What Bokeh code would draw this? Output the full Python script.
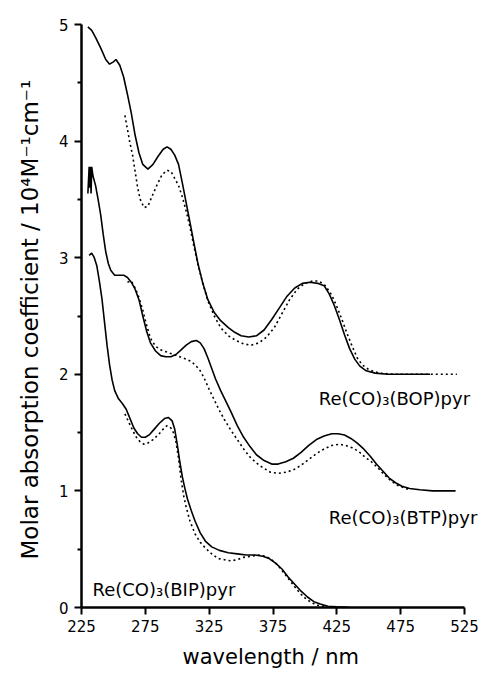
from bokeh.plotting import figure
from bokeh.models import Range1d, FixedTicker, Label, Title
from bokeh.embed import file_html
from bokeh.resources import INLINE

# ---------------- data ----------------
x_ticks = [225, 275, 325, 375, 425, 475, 525]
y_ticks = [0, 1, 2, 3, 4, 5]
y_minor = [0.5, 1.5, 2.5, 3.5, 4.5]

labels = ["Re(CO)\u2083(BOP)pyr", "Re(CO)\u2083(BTP)pyr", "Re(CO)\u2083(BIP)pyr"]

bop_solid_x = [230, 233, 236, 240, 244, 247, 250, 252, 255, 258, 261, 264, 267, 270, 273, 277, 281, 285, 289, 292,
               295, 298, 301, 304, 307, 310, 313, 316, 320, 324, 329, 334, 340, 345, 350, 356, 362, 368, 374, 380,
               386, 392, 398, 404, 410, 415, 419, 423, 427, 431, 435, 439, 443, 448, 455, 465, 480, 498]
bop_solid_y = [4.98, 4.95, 4.89, 4.80, 4.70, 4.66, 4.68, 4.70, 4.65, 4.55, 4.40, 4.24, 4.05, 3.90, 3.80, 3.76, 3.80,
               3.87, 3.93, 3.95, 3.93, 3.88, 3.80, 3.64, 3.47, 3.30, 3.13, 2.96, 2.78, 2.64, 2.53, 2.46, 2.40, 2.36,
               2.33, 2.32, 2.33, 2.38, 2.47, 2.57, 2.67, 2.74, 2.78, 2.79, 2.78, 2.76, 2.69, 2.59, 2.47, 2.34, 2.22,
               2.13, 2.07, 2.03, 2.01, 2.00, 2.00, 2.00]

bop_dot_x = [259, 261, 263, 265, 267, 269, 271, 274, 277, 280, 284, 288, 292, 295, 298, 301, 304, 307, 310, 313, 316,
             320, 324, 329, 334, 340, 346, 352, 358, 364, 370, 376, 382, 388, 394, 400, 406, 411, 416, 421, 425, 429,
             433, 437, 441, 445, 450, 458, 470, 490, 505, 519]
bop_dot_y = [4.22, 4.10, 3.98, 3.88, 3.74, 3.60, 3.50, 3.43, 3.44, 3.52, 3.62, 3.71, 3.75, 3.74, 3.68, 3.62, 3.52,
             3.40, 3.26, 3.10, 2.95, 2.78, 2.63, 2.50, 2.40, 2.33, 2.29, 2.26, 2.25, 2.27, 2.32, 2.40, 2.52, 2.64,
             2.73, 2.78, 2.80, 2.80, 2.76, 2.68, 2.58, 2.47, 2.35, 2.24, 2.14, 2.08, 2.04, 2.01, 2.00, 2.00, 2.00,
             2.00]

btp_solid_x = [230, 231, 231.5, 232, 232.5, 233, 234, 236, 238, 240, 242, 244, 246, 248, 251, 255, 258, 261, 264,
               267, 270, 273, 276, 279, 283, 287, 291, 295, 299, 303, 307, 311, 315, 318, 321, 324, 327, 330, 334,
               338, 342, 347, 352, 357, 362, 368, 374, 379, 385, 391, 397, 403, 409, 415, 421, 426, 431, 436, 441,
               446, 451, 456, 461, 466, 471, 476, 482, 490, 500, 510, 518]
btp_solid_y = [3.55, 3.78, 3.60, 3.78, 3.55, 3.78, 3.70, 3.62, 3.50, 3.37, 3.20, 3.05, 2.95, 2.89, 2.85, 2.85, 2.85,
               2.83, 2.79, 2.73, 2.64, 2.50, 2.37, 2.27, 2.20, 2.16, 2.15, 2.15, 2.17, 2.21, 2.25, 2.28, 2.29, 2.27,
               2.22, 2.14, 2.05, 1.96, 1.86, 1.77, 1.68, 1.56, 1.46, 1.38, 1.31, 1.26, 1.23, 1.23, 1.25, 1.28, 1.33,
               1.39, 1.44, 1.47, 1.49, 1.49, 1.48, 1.45, 1.41, 1.36, 1.30, 1.23, 1.17, 1.11, 1.07, 1.04, 1.02, 1.01,
               1.00, 1.00, 1.00]

btp_dot_x = [261, 264, 267, 270, 273, 276, 279, 283, 287, 292, 297, 302, 307, 311, 315, 318, 321, 325, 329, 333, 337,
             342, 347, 352, 357, 362, 367, 373, 379, 385, 391, 397, 403, 409, 415, 421, 427, 432, 437, 442, 447, 452,
             457, 462, 467, 472, 477, 482]
btp_dot_y = [2.79, 2.80, 2.74, 2.66, 2.55, 2.42, 2.31, 2.24, 2.21, 2.19, 2.17, 2.15, 2.13, 2.11, 2.07, 2.03, 1.97,
             1.87, 1.78, 1.69, 1.61, 1.52, 1.44, 1.36, 1.29, 1.24, 1.20, 1.16, 1.15, 1.16, 1.18, 1.22, 1.27, 1.32,
             1.36, 1.39, 1.40, 1.39, 1.37, 1.34, 1.29, 1.25, 1.20, 1.14, 1.09, 1.05, 1.03, 1.01]

bip_solid_x = [231, 233, 235, 237, 239, 241, 243, 245, 247, 249, 251, 254, 257, 260, 263, 266, 269, 272, 275, 278,
               282, 286, 290, 293, 296, 298, 300, 302, 304, 306, 308, 311, 314, 318, 322, 327, 333, 340, 347, 354,
               361, 367, 372, 377, 382, 387, 392, 397, 402, 407, 412, 418, 425, 435]
bip_solid_y = [3.02, 3.04, 3.00, 2.93, 2.80, 2.65, 2.45, 2.25, 2.08, 1.95, 1.86, 1.79, 1.75, 1.70, 1.62, 1.54, 1.49,
               1.46, 1.46, 1.48, 1.53, 1.58, 1.62, 1.63, 1.60, 1.53, 1.40, 1.25, 1.12, 1.02, 0.93, 0.83, 0.74, 0.64,
               0.57, 0.52, 0.49, 0.47, 0.46, 0.45, 0.45, 0.44, 0.42, 0.38, 0.33, 0.26, 0.20, 0.14, 0.09, 0.05, 0.03,
               0.01, 0.005, 0.0]

bip_dot_x = [259, 262, 265, 268, 271, 274, 277, 281, 285, 289, 292, 295, 297, 299, 301, 303, 305, 307, 310, 314, 318,
             322, 327, 332, 337, 342, 347, 352, 358, 364, 369, 374, 379, 384, 389, 394, 399, 404, 409, 415, 422]
bip_dot_y = [1.66, 1.59, 1.52, 1.46, 1.42, 1.40, 1.41, 1.44, 1.48, 1.53, 1.56, 1.54, 1.50, 1.42, 1.28, 1.10, 0.96,
             0.86, 0.74, 0.63, 0.56, 0.51, 0.46, 0.42, 0.41, 0.40, 0.41, 0.43, 0.44, 0.45, 0.44, 0.41, 0.36, 0.29,
             0.22, 0.15, 0.09, 0.05, 0.02, 0.01, 0.0]

# ---------------- figure ----------------
FONT = "DejaVu Sans"

# frame runs to the right window edge so the series labels are not clipped;
# the x axis itself is bounded to 225..525
p = figure(width=487, height=677, x_range=Range1d(225, 543), y_range=Range1d(0, 5),
           output_backend="svg", toolbar_location=None,
           min_border_left=81, min_border_right=0, min_border_top=24, min_border_bottom=70)
p.outline_line_color = None
p.xgrid.visible = False
p.ygrid.visible = False
p.background_fill_color = "white"
p.border_fill_color = "white"

solid_kw = dict(line_color="black", line_width=1.6)
dot_kw = dict(line_color="black", line_width=1.6, line_dash="2 3")

p.line(bop_solid_x, bop_solid_y, **solid_kw)
p.line(bop_dot_x, bop_dot_y, **dot_kw)
p.line(btp_solid_x, btp_solid_y, **solid_kw)
p.line(btp_dot_x, btp_dot_y, **dot_kw)
p.line(bip_solid_x, bip_solid_y, **solid_kw)
p.line(bip_dot_x, bip_dot_y, **dot_kw)

# axes
p.xaxis.ticker = FixedTicker(ticks=x_ticks)
p.yaxis.ticker = FixedTicker(ticks=y_ticks, minor_ticks=y_minor)
p.xaxis.bounds = (225, 525)
for ax in (p.xaxis[0], p.yaxis[0]):
    ax.axis_line_width = 2.5
    ax.axis_line_color = "black"
    ax.major_tick_line_width = 2
    ax.major_tick_line_color = "black"
    ax.major_tick_in = 0
    ax.major_tick_out = 7
    ax.minor_tick_line_width = 2
    ax.minor_tick_line_color = "black"
    ax.minor_tick_in = 0
    ax.minor_tick_out = 4
    ax.major_label_text_font = FONT
    ax.major_label_text_font_size = "15px"
    ax.major_label_text_color = "black"
    ax.axis_label_text_font = FONT
    ax.axis_label_text_font_style = "normal"
    ax.axis_label_text_color = "black"

p.xaxis.minor_tick_out = 0
p.xaxis.major_label_standoff = 5
p.yaxis.major_label_standoff = 6

# x-axis title centred under the bounded axis (225..525), not under the wider frame
p.add_layout(Title(text="wavelength / nm", align="left", offset=101, standoff=17,
                   text_font=FONT, text_font_size="21px", text_font_style="normal",
                   text_color="black"), "below")

p.yaxis.axis_label = "Molar absorption coefficient  / 10\u2074M\u207b\u00b9cm\u207b\u00b9"
p.yaxis.axis_label_text_font_size = "23px"
p.yaxis.axis_label_standoff = 13

# series labels
label_pos = [(410.8, 1.79), (418.7, 0.775), (233.6, 0.155)]
for txt, (lx, ly) in zip(labels, label_pos):
    p.add_layout(Label(x=lx, y=ly, text=txt, text_font=FONT, text_font_size="18px",
                       text_color="black", text_baseline="alphabetic", text_align="left"))

open("out.html", "w").write(file_html(p, INLINE))
